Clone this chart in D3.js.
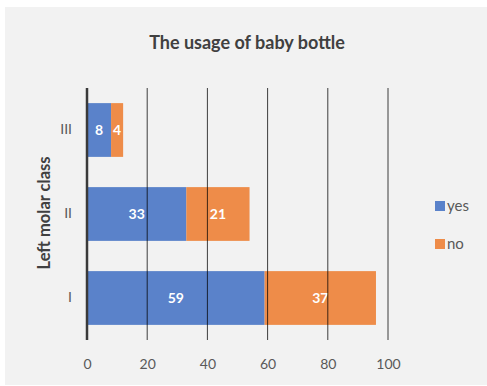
<!DOCTYPE html>
<html>
<head>
<meta charset="utf-8">
<script src="https://cdn.jsdelivr.net/npm/d3@7"></script>
<style>
  html, body { margin: 0; padding: 0; background: #ffffff; }
  svg { display: block; font-family: Lato, "Open Sans", sans-serif; }
</style>
</head>
<body>
<svg id="chart" width="487" height="386"></svg>
<script>
// Stacked horizontal bars: baby bottle usage per left molar class
const classes = ["I", "II", "III"];
const yesCounts = [59, 33, 8];
const noCounts = [37, 21, 4];
const seriesNames = ["yes", "no"];
const seriesColors = ["#4472c4", "#ed7d31"];
const xTicks = [0, 20, 40, 60, 80, 100];

const svg = d3.select("#chart");

// chart panel
svg.append("rect")
  .attr("x", 5).attr("y", 7)
  .attr("width", 482).attr("height", 378)
  .attr("fill", "#f2f2f2");

const plot = { left: 87, right: 388, top: 88, bottom: 340 };

const x = d3.scaleLinear().domain([0, 100]).range([plot.left, plot.right]);
const y = d3.scaleBand()
  .domain(classes.slice().reverse())
  .range([plot.top, plot.bottom])
  .paddingInner(0.36)
  .paddingOuter(0.18);

const rows = classes.map((c, i) => ({ cls: c, yes: yesCounts[i], no: noCounts[i] }));
const stacked = d3.stack().keys(seriesNames)(rows);

// bars
const layers = svg.append("g").selectAll("g")
  .data(stacked)
  .join("g")
  .attr("fill", (d, i) => seriesColors[i])
  .attr("fill-opacity", 0.88);

layers.selectAll("rect")
  .data(d => d)
  .join("rect")
  .attr("x", d => x(d[0]))
  .attr("y", d => y(d.data.cls))
  .attr("width", d => x(d[1]) - x(d[0]))
  .attr("height", y.bandwidth());

// vertical gridlines
svg.append("g").selectAll("line")
  .data(xTicks.filter(t => t > 0))
  .join("line")
  .attr("x1", d => x(d)).attr("x2", d => x(d))
  .attr("y1", plot.top).attr("y2", plot.bottom)
  .attr("stroke", "#000000")
  .attr("stroke-opacity", 0.75)
  .attr("stroke-width", 1);

// baseline at zero
svg.append("line")
  .attr("x1", x(0)).attr("x2", x(0))
  .attr("y1", plot.top).attr("y2", plot.bottom)
  .attr("stroke", "#3a3a3a")
  .attr("stroke-width", 2.5);

// value labels
layers.selectAll("text")
  .data(d => d)
  .join("text")
  .attr("x", d => (x(d[0]) + x(d[1])) / 2)
  .attr("y", d => y(d.data.cls) + y.bandwidth() / 2)
  .attr("dy", "0.35em")
  .attr("text-anchor", "middle")
  .attr("fill", "#ffffff")
  .attr("fill-opacity", 1)
  .attr("font-size", 14)
  .attr("font-weight", "bold")
  .text(d => d[1] - d[0]);

// x axis tick labels
const xAxis = d3.axisBottom(x).tickValues(xTicks).tickSize(0).tickPadding(0);
const gx = svg.append("g")
  .attr("transform", `translate(0, 364)`)
  .call(xAxis);
gx.select(".domain").remove();
gx.selectAll("text")
  .attr("dy", "0.35em")
  .attr("y", 0)
  .attr("font-family", "Lato, sans-serif")
  .attr("font-size", 14)
  .attr("fill", "#595959");

// y axis category labels
const yAxis = d3.axisLeft(y).tickSize(0).tickPadding(0);
const gy = svg.append("g")
  .attr("transform", `translate(72, 0)`)
  .call(yAxis);
gy.select(".domain").remove();
gy.selectAll("text")
  .attr("font-family", "Lato, sans-serif")
  .attr("font-size", 14)
  .attr("fill", "#595959");

// axis title
svg.append("text")
  .attr("transform", `translate(44, ${(plot.top + plot.bottom) / 2 - 1}) rotate(-90)`)
  .attr("text-anchor", "middle")
  .attr("dy", "0.35em")
  .attr("font-size", 16.5)
  .attr("font-weight", "bold")
  .attr("fill", "#404040")
  .text("Left molar class");

// title
svg.append("text")
  .attr("x", 247).attr("y", 43)
  .attr("text-anchor", "middle")
  .attr("dy", "0.35em")
  .attr("font-size", 18)
  .attr("font-weight", "bold")
  .attr("fill", "#404040")
  .text("The usage of baby bottle");

// legend
const legend = svg.append("g").selectAll("g")
  .data(seriesNames)
  .join("g")
  .attr("transform", (d, i) => `translate(435, ${201 + i * 38})`);
legend.append("rect")
  .attr("width", 10).attr("height", 10)
  .attr("fill", (d, i) => seriesColors[i])
  .attr("fill-opacity", 0.88);
legend.append("text")
  .attr("x", 12).attr("y", 5)
  .attr("dy", "0.35em")
  .attr("font-size", 15)
  .attr("fill", "#595959")
  .text(d => d);
</script>
</body>
</html>
